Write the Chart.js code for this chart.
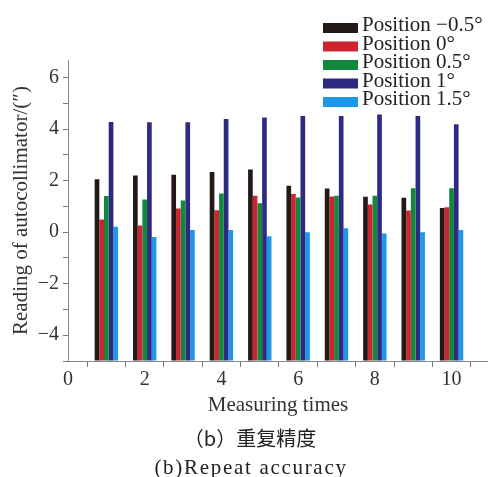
<!DOCTYPE html>
<html>
<head>
<meta charset="utf-8">
<script src="https://cdn.jsdelivr.net/npm/chart.js@4"></script>
<style>
body { margin: 0; background: #fff; width: 488px; height: 477px; position: relative; overflow: hidden; }
#wrap { position: absolute; left: 0; top: 0; width: 488px; height: 430px; }
.cap { position: absolute; color: #222; line-height: 24px; text-align: center; white-space: nowrap; }
</style>
</head>
<body>
<div id="wrap"><canvas id="myChart" width="488" height="430"></canvas></div>
<div class="cap" style="top:426px;left:12px;width:476px;font-size:20px;font-family:'Noto Sans CJK SC';">（b）重复精度</div>
<div class="cap" style="top:455px;left:14px;width:474px;font-size:21px;font-family:'Liberation Serif';letter-spacing:1.7px;">(b)Repeat accuracy</div>
<script>
let measuring_times = [1, 2, 3, 4, 5, 6, 7, 8, 9, 10];
let series_labels = ['Position \u22120.5°', 'Position 0°', 'Position 0.5°', 'Position 1°', 'Position 1.5°'];
let series_colors = ['#231916', '#cc2530', '#11883c', '#2e2a82', '#1c98e6'];

let pos_m05 = [2.05, 2.20, 2.23, 2.33, 2.43, 1.80, 1.69, 1.37, 1.33, 0.94];
let pos_0 = [0.49, 0.26, 0.92, 0.85, 1.41, 1.48, 1.38, 1.07, 0.84, 0.97];
let pos_05 = [1.40, 1.27, 1.23, 1.50, 1.12, 1.34, 1.41, 1.41, 1.70, 1.70];
let pos_1 = [4.27, 4.26, 4.26, 4.39, 4.45, 4.51, 4.51, 4.57, 4.51, 4.19];
let pos_15 = [0.21, -0.19, 0.08, 0.08, -0.16, 0.00, 0.15, -0.05, 0.00, 0.08];

let y_ticks = [-5, -4, -3, -2, -1, 0, 1, 2, 3, 4, 5, 6];
let x_ticks = [0, 1, 2, 3, 4, 5, 6, 7, 8, 9, 10];
let y_min = -5;

const serif = "'Liberation Serif', 'Times New Roman', serif";

function points(values) {
    return values.map((v, i) => ({ x: measuring_times[i], y: v }));
}

let all_series = [pos_m05, pos_0, pos_05, pos_1, pos_15];

// legend drawn inside the plot, top right
const legendBox = {
    id: 'legendBox',
    afterDraw(chart) {
        let ctx = chart.ctx;
        ctx.save();
        ctx.font = '21px ' + serif;
        ctx.textBaseline = 'alphabetic';
        ctx.textAlign = 'left';
        chart.data.datasets.forEach((ds, i) => {
            let cy = 28 + i * 18.5;
            ctx.fillStyle = ds.backgroundColor;
            ctx.fillRect(323, cy - 5, 35, 10);
            ctx.fillStyle = '#222';
            ctx.fillText(ds.label, 362, cy + 3);
        });
        ctx.restore();
    }
};

function myChart() {
    let ctx = document.getElementById('myChart').getContext('2d');
    new Chart(ctx, {
        type: 'bar',
        data: {
            datasets: all_series.map((s, i) => ({
                label: series_labels[i],
                data: points(s),
                backgroundColor: series_colors[i],
                borderWidth: 0,
                base: y_min,
                barPercentage: 1,
                categoryPercentage: 0.61
            }))
        },
        options: {
            responsive: false,
            animation: false,
            devicePixelRatio: 1,
            layout: { padding: { top: 60, right: 0, left: 0, bottom: 0 } },
            plugins: {
                legend: { display: false },
                tooltip: { enabled: false }
            },
            scales: {
                x: {
                    type: 'linear',
                    min: 0,
                    max: 10.95,
                    offset: false,
                    afterBuildTicks: scale => { scale.ticks = x_ticks.map(v => ({ value: v })); },
                    afterFit: scale => { scale.height = 69; },
                    grid: { drawOnChartArea: false, drawTicks: true, tickLength: 6, tickColor: '#777' },
                    border: { display: true, color: '#888', width: 1 },
                    ticks: {
                        padding: 1,
                        maxRotation: 0,
                        autoSkip: false,
                        color: '#333',
                        font: { family: serif, size: 20 },
                        callback: v => (v % 2 === 0 ? String(v) : '')
                    },
                    title: {
                        display: true,
                        text: 'Measuring times',
                        color: '#333',
                        font: { family: serif, size: 21 },
                        padding: { top: 0, bottom: 12 }
                    }
                },
                y: {
                    min: y_min,
                    max: 6.68,
                    afterBuildTicks: scale => { scale.ticks = y_ticks.map(v => ({ value: v })); },
                    afterFit: scale => { scale.width = 68; },
                    grid: { drawOnChartArea: false, drawTicks: true, tickLength: 5, tickColor: '#777' },
                    border: { display: true, color: '#888', width: 1 },
                    ticks: {
                        padding: 4,
                        autoSkip: false,
                        color: '#333',
                        font: { family: serif, size: 20 },
                        callback: v => (v % 2 === 0 ? (v < 0 ? '\u2212' + Math.abs(v) : String(v)) : '')
                    },
                    title: {
                        display: true,
                        text: "Reading of autocollimator/(\u2033)",
                        color: '#333',
                        font: { family: serif, size: 21 },
                        padding: { top: 9, bottom: 0 }
                    }
                }
            }
        },
        plugins: [legendBox]
    });
}
myChart()
</script>
</body>
</html>
